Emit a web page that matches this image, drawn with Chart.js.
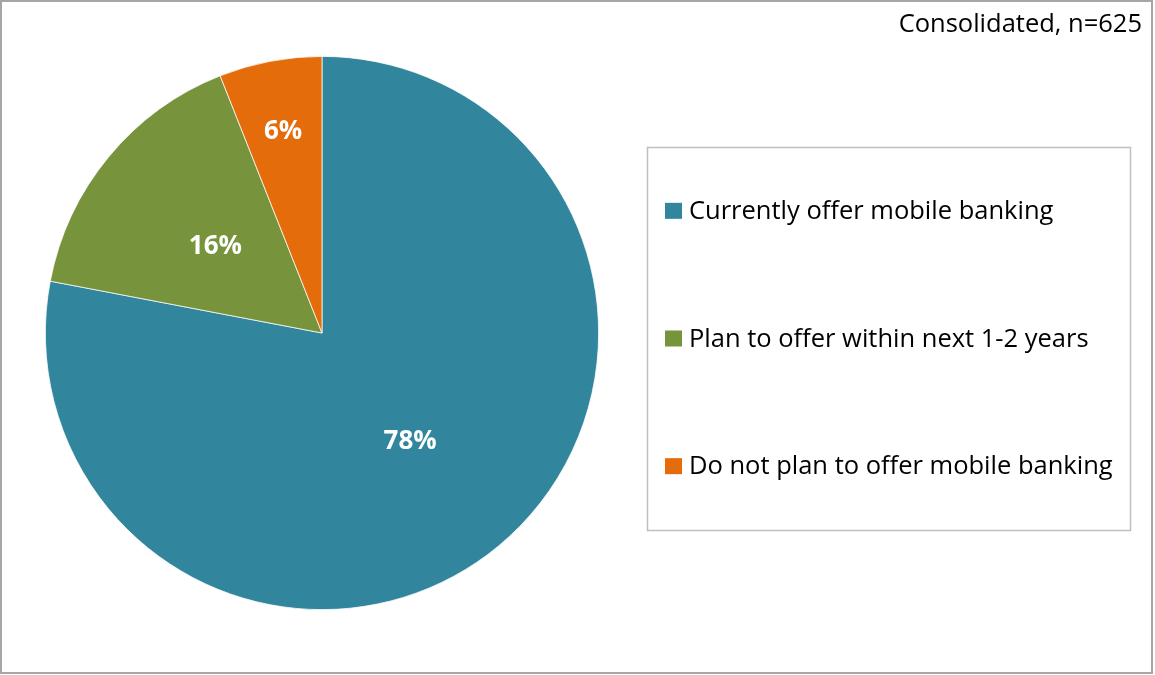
<!DOCTYPE html>
<html>
<head>
<meta charset="utf-8">
<title>Mobile banking</title>
<script src="https://cdn.jsdelivr.net/npm/chart.js@4/dist/chart.umd.min.js"></script>
<style>
    html, body { margin: 0; padding: 0; background: #ffffff; }
    #wrap { position: relative; width: 1155px; height: 675px; }
</style>
</head>
<body>
<div id="wrap"><canvas id="mobilePie" width="1155" height="675"></canvas></div>
<script>
// Survey answers and their shares (percent)
const categories = ['Currently offer mobile banking', 'Plan to offer within next 1-2 years', 'Do not plan to offer mobile banking'];
const shares = [78, 16, 6];
const sliceColors = ['#31859C', '#77933C', '#E46C0A'];
const sampleNote = 'Consolidated, n=625';

const FONT = '"Open Sans", "Liberation Sans", sans-serif';

// Outer frame of the whole graphic
const framePlugin = {
    id: 'frame',
    beforeDraw(chart) {
        const ctx = chart.ctx;
        ctx.save();
        ctx.fillStyle = '#ffffff';
        ctx.fillRect(0, 0, chart.width, chart.height);
        ctx.strokeStyle = '#a6a6a6';
        ctx.lineWidth = 2;
        ctx.strokeRect(1, 1, chart.width - 4, chart.height - 3);
        ctx.restore();
    }
};

// Percentage labels inside the slices, small slices pushed toward the rim
const sliceLabelPlugin = {
    id: 'sliceLabels',
    afterDatasetsDraw(chart) {
        const ctx = chart.ctx;
        const meta = chart.getDatasetMeta(0);
        const total = shares.reduce((a, b) => a + b, 0);
        ctx.save();
        ctx.fillStyle = '#ffffff';
        ctx.font = 'bold 26px ' + FONT;
        ctx.textAlign = 'center';
        ctx.textBaseline = 'middle';
        meta.data.forEach((arc, i) => {
            const p = arc.getProps(['x', 'y', 'startAngle', 'endAngle', 'outerRadius'], true);
            const mid = (p.startAngle + p.endAngle) / 2;
            const r = p.outerRadius * (shares[i] / total < 0.1 ? 0.75 : 0.5);
            ctx.fillText(shares[i] + '%', p.x + Math.cos(mid) * r, p.y + Math.sin(mid) * r + 2);
        });
        ctx.restore();
    }
};

// Boxed legend on the right and the sample note in the top corner
const legendBoxPlugin = {
    id: 'legendBox',
    afterDraw(chart) {
        const ctx = chart.ctx;
        const box = { left: 647, top: 147, width: 483, height: 383 };
        ctx.save();
        ctx.strokeStyle = '#bfbfbf';
        ctx.lineWidth = 1.5;
        ctx.strokeRect(box.left + 0.5, box.top + 0.5, box.width, box.height);

        ctx.font = '25.5px ' + FONT;
        ctx.textBaseline = 'middle';
        ctx.textAlign = 'left';
        const rowH = box.height / categories.length;
        categories.forEach((label, i) => {
            const cy = box.top + rowH * (i + 0.5);
            ctx.fillStyle = sliceColors[i];
            ctx.fillRect(665, cy - 8, 17, 16);
            ctx.fillStyle = '#000000';
            ctx.fillText(label, 689, cy + 1);
        });

        ctx.textAlign = 'right';
        ctx.fillText(sampleNote, 1142, 25);
        ctx.restore();
    }
};

const ctx = document.getElementById('mobilePie').getContext('2d');
new Chart(ctx, {
    type: 'pie',
    data: {
        labels: categories,
        datasets: [
            {
                data: shares,
                backgroundColor: sliceColors,
                borderColor: '#ffffff',
                borderWidth: 0.75,
            },
        ],
    },
    options: {
        responsive: false,
        animation: false,
        layout: {
            padding: { left: 45, top: 56, right: 556, bottom: 65 },
        },
        plugins: {
            legend: { display: false },
            tooltip: { enabled: false },
        },
    },
    plugins: [framePlugin, sliceLabelPlugin, legendBoxPlugin],
});
</script>
</body>
</html>
